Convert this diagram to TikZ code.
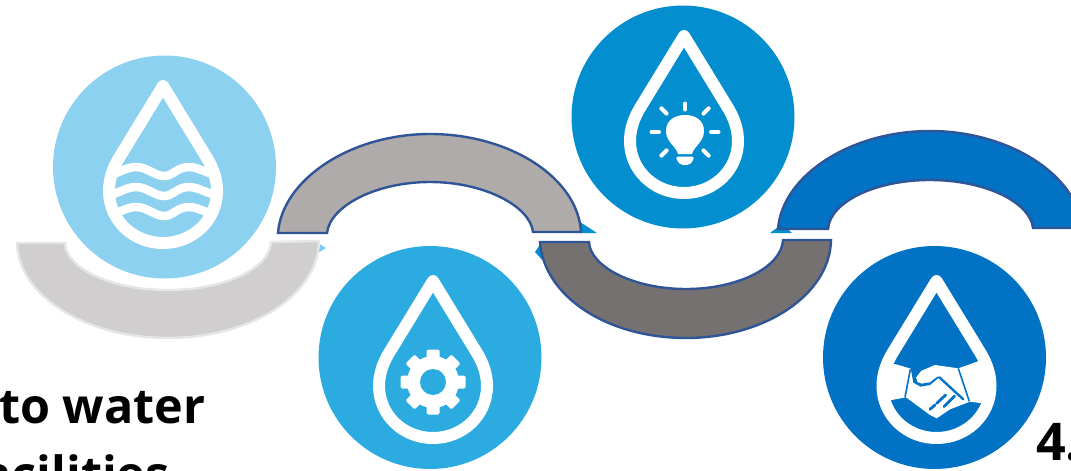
\documentclass[tikz,border=0pt]{standalone}
\usepackage{fontspec}
\setmainfont{Open Sans}
\definecolor{cA}{HTML}{8CD1F0}
\definecolor{cB}{HTML}{2BABDF}
\definecolor{cC}{HTML}{038ECF}
\definecolor{cD}{HTML}{0272C4}
\definecolor{edge}{HTML}{2F5597}
\definecolor{gA}{HTML}{D0CECE}
\definecolor{gB}{HTML}{AFABAB}
\definecolor{gC}{HTML}{767171}
\newcommand{\droppath}{(0,0) -- (-44,72) .. controls (-50,82) and (-54,93) .. (-54,105) .. controls (-54,134) and (-30,157) .. (0,157) .. controls (30,157) and (54,134) .. (54,105) .. controls (54,93) and (50,82) .. (44,72) -- cycle}
\tikzset{
  x=1pt,y=-1pt,
  disc/.style={circle,minimum size=223pt,inner sep=0pt,fill=#1},
  dropline/.style={draw=white,line width=12pt,line join=round},
  arcband/.style={draw=edge,line width=2.4pt,fill=#1,line join=miter},
  boldtext/.style={anchor=base west,inner sep=0pt,font=\bfseries\fontsize{48.5}{48.5}\selectfont},
}
\begin{document}
\begin{tikzpicture}
\useasboundingbox (0,0) rectangle (1071,471);
% slivers
\fill[cB!60!white] (318,243) -- (326,248) -- (318,253) -- cycle;
\fill[cC] (580,222) -- (597,233) -- (580,233) -- cycle;
\fill[cC] (770,233) -- (782,224) -- (792,233) -- cycle;
\fill[cC] (541,243) -- (535,252) -- (545,263) -- cycle;
% discs
\node[disc=cA] (d1) at (164.5,167) {};
\node[disc=cB] (d2) at (430,357.5) {};
\node[disc=cC] (d3) at (683,117) {};
\node[disc=cD] (d4) at (934.5,357.5) {};
% drop 1 with waves
\begin{scope}[shift={(163,86)}]
  \begin{scope}
    \clip \droppath;
    \foreach \yy in {0,20,40}{
      \draw[white,line width=8.5pt,yshift=\yy*-1pt] (-60,90) .. controls (-48,90) and (-38,81) .. (-27,81)
        .. controls (-16,81) and (-8,90) .. (1,90) .. controls (10,90) and (14,81) .. (26,81)
        .. controls (36,81) and (48,90) .. (60,90);
    }
  \end{scope}
  \draw[dropline] \droppath;
\end{scope}
% drop 2 with gear
\begin{scope}[shift={(433,281)}]
  \draw[dropline] \droppath;
  \begin{scope}[shift={(0,101)}]
    \fill[white] (0,0) circle (26);
    \foreach \a in {0,45,...,315}{
      \fill[white,rotate=\a,rounded corners=1.5pt] (-6.5,-20) rectangle (6.5,-32.5);
    }
    \fill[cB] (0,0) circle (13);
  \end{scope}
\end{scope}
% drop 3 with bulb
\begin{scope}[shift={(684,36)}]
  \draw[dropline] \droppath;
  \begin{scope}[shift={(1,96)}]
    \fill[white] (-7,22) .. controls (-9,14) and (-19,10) .. (-19,-1) .. controls (-19,-12) and (-10,-17) .. (0,-17)
      .. controls (10,-17) and (19,-12) .. (19,-1) .. controls (19,10) and (9,14) .. (7,22) -- cycle;
    \fill[white,rounded corners=2pt] (-9,24.5) -- (9,24.5) -- (8,29) -- (4,33) -- (-4,33) -- (-8,29) -- cycle;
    \foreach \a in {-45,0,180,225,45,135}{
      \draw[white,line width=4pt,line cap=round,rotate=\a] (26,0) -- (33.5,0);
    }
    \draw[white,line width=4pt,line cap=round] (0,-22.5) -- (0,-28.5);
  \end{scope}
\end{scope}
% drop 4 with handshake (drawn in the crop's own scale)
\begin{scope}
  \begin{scope}[shift={(936.5,281)}]
    \clip \droppath;
    \begin{scope}[shift={(-56.5,59)},x=0.3333pt,y=-0.3333pt]
      \fill[white] (-10,72) -- (45,72) -- (92,86) -- (125,92) -- (165,75) -- (235,85) -- (300,62) -- (345,62) -- (345,195)
        -- (270,185) -- (210,208) -- (170,235) -- (150,225) -- (78,172) -- (35,180) -- (-10,180) -- cycle;
      \fill[cD] (92,84) -- (125,90) -- (108,112) -- (112,126) -- (125,131) -- (150,127) -- (172,110) -- (178,112) -- (150,135)
        -- (122,140) -- (100,128) -- cycle;
      \draw[cD,line width=1.6pt] (91,88) -- (75,172);
      \draw[cD,line width=1.6pt] (235,85) -- (268,184);
      \draw[cD,line width=2.4pt,line cap=round] (178,112) -- (250,178);
      \draw[cD,line width=2.8pt,line cap=round] (197,165) -- (170,190) (224,168) -- (192,200) (165,195) -- (150,208);
    \end{scope}
  \end{scope}
  \begin{scope}[shift={(936.5,281)}]
    \draw[dropline] \droppath;
  \end{scope}
\end{scope}
% bands
\path[arcband=gA,draw=gA!50!white] (17,243) -- (65,243) .. controls (66,268) and (110,290) .. (168,290)
  .. controls (226,290) and (270,268) .. (271,242) -- (319,241) .. controls (318,296) and (250,338) .. (168,338)
  .. controls (86,338) and (18,296) .. (17,243) -- cycle;
\path[arcband=gB] (278,233) .. controls (282,180) and (350,134) .. (430,134) .. controls (510,134) and (578,178) .. (581,232)
  -- (533,232) .. controls (530,206) and (484,182) .. (430,182) .. controls (376,182) and (330,206) .. (327,233) -- cycle;
\path[arcband=gC] (540,242) -- (589,242) .. controls (590,266) and (632,289) .. (686,289)
  .. controls (740,289) and (782,266) .. (783,240) -- (831,240) .. controls (830,295) and (764,338) .. (686,338)
  .. controls (608,338) and (544,297) .. (540,242) -- cycle;
\begin{scope}
  \clip (770,120) rectangle (1071,240);
  \path[arcband=cD] (778,229) .. controls (782,176) and (850,131) .. (930,131) .. controls (1010,131) and (1078,176) .. (1082,228)
    -- (1033,228) .. controls (1030,202) and (985,180) .. (930,180) .. controls (875,180) and (830,202) .. (828,229) -- cycle;
\end{scope}
% texts
\node[boldtext] (t1) at (-1,423) {to water};
\node[boldtext,anchor=base east] (t2) at (170,491) {facilities};
\node[boldtext,font=\bfseries\fontsize{52}{52}\selectfont] (t3) at (1036,460) {4.};
\end{tikzpicture}
\end{document}
